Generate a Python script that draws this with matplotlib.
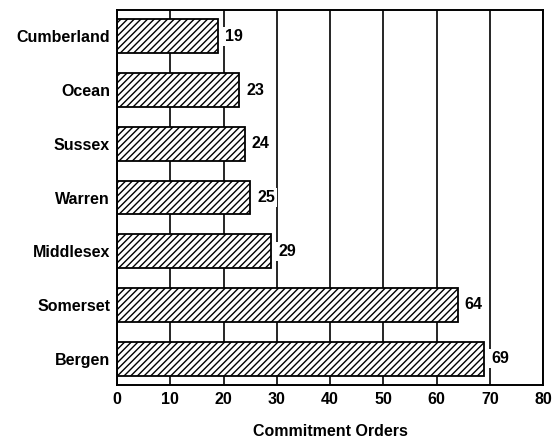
import matplotlib.pyplot as plt

counties = ['Cumberland', 'Ocean', 'Sussex', 'Warren', 'Middlesex', 'Somerset', 'Bergen']
orders = [19, 23, 24, 25, 29, 64, 69]
xticks = [0, 10, 20, 30, 40, 50, 60, 70, 80]

plt.rcParams['font.family'] = ['Liberation Sans', 'DejaVu Sans']
plt.rcParams['font.weight'] = 'bold'
plt.rcParams['hatch.linewidth'] = 1.0

fig = plt.figure(figsize=(5.53, 4.38), dpi=100)
ax = fig.add_axes([117 / 553, 53 / 438, 426 / 553, 375 / 438])

ypos = list(range(len(counties)))[::-1]
ax.barh(ypos, orders, height=0.63, color='white', edgecolor='black',
        hatch='/////', linewidth=1.3, zorder=2)

for y, v in zip(ypos, orders):
    ax.text(v + 1.3, y, str(v), va='center', ha='left', fontsize=11.5,
            fontweight='bold', zorder=3,
            bbox=dict(facecolor='white', edgecolor='none', pad=1.5))

ax.set_xlim(0, 80)
ax.set_ylim(-0.49, 6.49)
ax.set_xticks(xticks)
ax.set_yticks(ypos)
ax.set_yticklabels(counties, fontsize=11.5, fontweight='bold')
ax.tick_params(axis='both', length=0, labelsize=11.5, pad=5)
ax.xaxis.grid(True, color='black', linewidth=1.2, zorder=0)
ax.set_axisbelow(True)
for s in ax.spines.values():
    s.set_linewidth(1.4)
ax.set_xlabel('Commitment Orders', fontsize=11.5, fontweight='bold', labelpad=12)

fig.savefig('out.png', dpi=100)
